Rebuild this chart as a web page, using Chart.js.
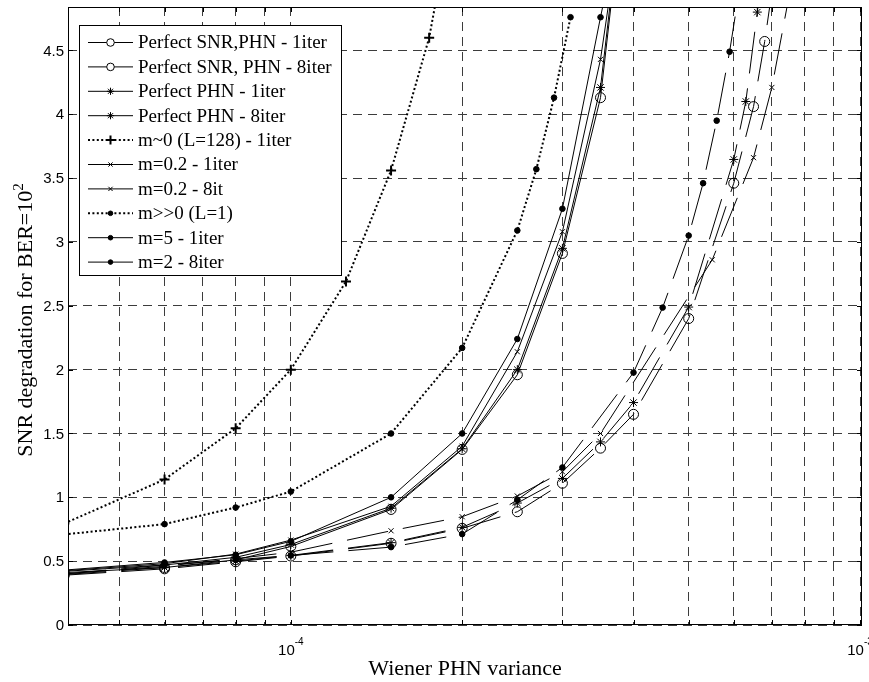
<!DOCTYPE html>
<html>
<head>
<meta charset="utf-8">
<script src="https://cdn.jsdelivr.net/npm/chart.js@4.4.1/dist/chart.umd.min.js"></script>
<style>
  html, body { margin: 0; padding: 0; background: #fff; }
  #wrap { width: 869px; height: 682px; }
</style>
</head>
<body>
<div id="wrap"><canvas id="c" width="869" height="682"></canvas></div>
<script>
// ---- Wiener phase-noise variance grid and SNR degradation (dB) at BER = 1e-2 ----

// single-iteration receivers share one variance grid
const xOneIter    = [4e-5, 6e-5, 8e-5, 1e-4, 1.5e-4, 2e-4, 2.5e-4, 3e-4, 3.5e-4, 4e-4];
const perfSnrPhn1 = [0.41, 0.45, 0.51, 0.615, 0.905, 1.375, 1.96, 2.91, 4.13, 6.4];
const perfPhn1    = [0.42, 0.47, 0.53, 0.63, 0.915, 1.38, 2.0, 2.95, 4.21, 6.45];
const m02Iter1    = [0.425, 0.48, 0.555, 0.665, 0.93, 1.40, 2.14, 3.08, 4.43, 6.2];
const m5Iter1     = [0.43, 0.49, 0.55, 0.655, 1.0, 1.50, 2.24, 3.26, 4.76, 6.0];

// eight-iteration receivers
const xPerfSnrPhn8 = [4e-5, 6e-5, 8e-5, 1e-4, 1.5e-4, 2e-4, 2.5e-4, 3e-4, 3.5e-4, 4e-4, 5e-4, 6e-4, 6.5e-4, 6.8e-4, 7.1e-4];
const perfSnrPhn8  = [0.39, 0.44, 0.495, 0.54, 0.64, 0.757, 0.887, 1.11, 1.385, 1.65, 2.40, 3.46, 4.06, 4.57, 5.15];
const xPerfPhn8    = [4e-5, 6e-5, 8e-5, 1e-4, 1.5e-4, 2e-4, 2.5e-4, 3e-4, 3.5e-4, 4e-4, 5e-4, 6e-4, 6.3e-4, 6.6e-4, 6.9e-4];
const perfPhn8     = [0.395, 0.45, 0.50, 0.545, 0.645, 0.765, 0.955, 1.148, 1.434, 1.742, 2.49, 3.646, 4.10, 4.80, 5.5];
const xM02Iter8    = [4e-5, 6e-5, 8e-5, 1e-4, 1.5e-4, 2e-4, 2.5e-4, 3e-4, 3.5e-4, 5.5e-4, 6.5e-4, 7e-4, 7.5e-4];
const m02Iter8     = [0.40, 0.46, 0.52, 0.57, 0.738, 0.848, 1.01, 1.2, 1.50, 2.86, 3.66, 4.21, 4.92];
const xM2Iter8     = [4e-5, 6e-5, 8e-5, 1e-4, 1.5e-4, 2e-4, 2.5e-4, 3e-4, 4e-4, 4.5e-4, 5e-4, 5.3e-4, 5.6e-4, 5.9e-4, 6.2e-4];
const m2Iter8      = [0.40, 0.47, 0.51, 0.545, 0.61, 0.712, 0.98, 1.234, 1.977, 2.486, 3.05, 3.46, 3.95, 4.49, 5.1];

// limiting cases of the mixing parameter m
const xM0    = [4e-5, 6e-5, 8e-5, 1e-4, 1.25e-4, 1.5e-4, 1.75e-4, 2e-4];
const m0L128 = [0.795, 1.14, 1.54, 2.0, 2.69, 3.56, 4.6, 6.0];
const xMInf  = [4e-5, 6e-5, 8e-5, 1e-4, 1.5e-4, 2e-4, 2.5e-4, 2.7e-4, 2.9e-4, 3.1e-4];
const mInfL1 = [0.709, 0.79, 0.92, 1.045, 1.50, 2.17, 3.09, 3.57, 4.13, 4.76];

// axis ticks
const yTickValues = [0, 0.5, 1, 1.5, 2, 2.5, 3, 3.5, 4, 4.5];
const yTickLabels = ['0', '0.5', '1', '1.5', '2', '2.5', '3', '3.5', '4', '4.5'];
const xGridValues = [5e-5, 6e-5, 7e-5, 8e-5, 9e-5, 1e-4, 2e-4, 3e-4, 4e-4, 5e-4, 6e-4, 7e-4, 8e-4, 9e-4, 1e-3];
const xLabelValues = [1e-4, 1e-3];
const xLabelExps   = ['-4', '-3'];

// ---- line / marker styles ----
const SOLID = [];
const DASHED = [42, 15];
const DOTTED = [2, 2.4];
const MARK = {
  circle: { pointStyle: 'circle',   r: 5,   lr: 3.8, fill: 'rgba(0,0,0,0)', bw: 1 },
  star:   { pointStyle: 'star',     r: 4.5, lr: 3.6, fill: 'rgba(0,0,0,0)', bw: 1 },
  plus:   { pointStyle: 'cross',    r: 5,   lr: 4.5, fill: 'rgba(0,0,0,0)', bw: 2 },
  xmark:  { pointStyle: 'crossRot', r: 3.6, lr: 3,   fill: 'rgba(0,0,0,0)', bw: 1 },
  dot:    { pointStyle: 'circle',   r: 2.8, lr: 2.3, fill: '#000',          bw: 1 }
};

function series(label, xs, ys, dash, mark, width) {
  const m = MARK[mark];
  return {
    label,
    data: xs.map((x, i) => ({ x, y: ys[i] })),
    showLine: true,
    tension: 0,
    borderColor: '#000',
    borderWidth: width || 1,
    borderDash: dash,
    pointStyle: m.pointStyle,
    pointRadius: m.r,
    pointBorderWidth: m.bw,
    pointBackgroundColor: m.fill,
    pointBorderColor: '#000',
    clip: 0,
    _mark: mark
  };
}

const datasets = [
  series('Perfect SNR,PHN - 1iter',  xOneIter,     perfSnrPhn1, SOLID,  'circle'),
  series('Perfect SNR, PHN - 8iter', xPerfSnrPhn8, perfSnrPhn8, DASHED, 'circle'),
  series('Perfect PHN - 1iter',      xOneIter,     perfPhn1,    SOLID,  'star'),
  series('Perfect PHN - 8iter',      xPerfPhn8,    perfPhn8,    DASHED, 'star'),
  series('m~0 (L=128) - 1iter',      xM0,          m0L128,      DOTTED, 'plus', 2),
  series('m=0.2 - 1iter',            xOneIter,     m02Iter1,    SOLID,  'xmark'),
  series('m=0.2 - 8it',              xM02Iter8,    m02Iter8,    DASHED, 'xmark'),
  series('m>>0 (L=1)',               xMInf,        mInfL1,      DOTTED, 'dot', 2),
  series('m=5 - 1iter',              xOneIter,     m5Iter1,     SOLID,  'dot'),
  series('m=2 - 8iter',              xM2Iter8,     m2Iter8,     DASHED, 'dot')
];

const SANS = "'Liberation Sans', Arial, Helvetica, sans-serif";
const SERIF = "'Liberation Serif', 'Times New Roman', Times, serif";

// small marker painter used by the legend
function paintMarker(ctx, mark, x, y) {
  const m = MARK[mark];
  const r = m.lr;
  ctx.save();
  ctx.setLineDash([]);
  ctx.lineWidth = m.bw;
  ctx.strokeStyle = '#000';
  ctx.beginPath();
  if (mark === 'circle' || mark === 'dot') {
    ctx.arc(x, y, r, 0, Math.PI * 2);
    ctx.fillStyle = mark === 'dot' ? '#000' : '#fff';
    ctx.fill();
    ctx.stroke();
  } else {
    const d = r * Math.SQRT1_2;
    if (mark === 'plus' || mark === 'star') {
      ctx.moveTo(x - r, y); ctx.lineTo(x + r, y);
      ctx.moveTo(x, y - r); ctx.lineTo(x, y + r);
    }
    if (mark === 'xmark' || mark === 'star') {
      ctx.moveTo(x - d, y - d); ctx.lineTo(x + d, y + d);
      ctx.moveTo(x - d, y + d); ctx.lineTo(x + d, y - d);
    }
    ctx.stroke();
  }
  ctx.restore();
}

const decorations = {
  id: 'decorations',
  afterDatasetsDraw(chart) {
    const { ctx, chartArea: a, scales } = chart;
    const xs = scales.x, ys = scales.y;
    ctx.save();
    ctx.setLineDash([]);
    ctx.strokeStyle = '#000';
    ctx.lineWidth = 1;

    // axes box
    ctx.strokeRect(Math.round(a.left) + 0.5, Math.round(a.top) + 0.5,
                   Math.round(a.right - a.left) - 1, Math.round(a.bottom - a.top) - 1);

    // inward tick marks on all four sides
    ctx.beginPath();
    xGridValues.forEach(v => {
      const px = Math.round(xs.getPixelForValue(v)) + 0.5;
      ctx.moveTo(px, a.top); ctx.lineTo(px, a.top + 5);
      ctx.moveTo(px, a.bottom); ctx.lineTo(px, a.bottom - 5);
    });
    yTickValues.forEach(v => {
      const py = Math.round(ys.getPixelForValue(v)) + 0.5;
      ctx.moveTo(a.left, py); ctx.lineTo(a.left + 5, py);
      ctx.moveTo(a.right, py); ctx.lineTo(a.right - 5, py);
    });
    ctx.stroke();

    // y tick labels
    ctx.fillStyle = '#000';
    ctx.font = '15px ' + SANS;
    ctx.textAlign = 'right';
    ctx.textBaseline = 'middle';
    yTickValues.forEach((v, i) => {
      ctx.fillText(yTickLabels[i], a.left - 4, ys.getPixelForValue(v) + 1);
    });

    // x tick labels, 10 with a raised exponent
    ctx.textAlign = 'left';
    ctx.textBaseline = 'alphabetic';
    xLabelValues.forEach((v, i) => {
      const px = xs.getPixelForValue(v);
      ctx.font = '15px ' + SANS;
      const wb = ctx.measureText('10').width;
      ctx.font = '10px ' + SANS;
      const we = ctx.measureText(xLabelExps[i]).width;
      const x0 = px - (wb + we) / 2;
      ctx.font = '15px ' + SANS;
      ctx.fillText('10', x0, a.bottom + 30);
      ctx.font = '10px ' + SANS;
      ctx.fillText(xLabelExps[i], x0 + wb, a.bottom + 20);
    });

    // axis titles
    ctx.font = '22px ' + SERIF;
    ctx.textAlign = 'center';
    ctx.fillText('Wiener PHN variance', (a.left + a.right) / 2, 675);

    ctx.save();
    ctx.translate(32, 320);
    ctx.rotate(-Math.PI / 2);
    const main = 'SNR degradation for BER=10';
    ctx.font = '22px ' + SERIF;
    const wm = ctx.measureText(main).width;
    ctx.font = '15px ' + SERIF;
    const ws = ctx.measureText('2').width;
    const sx = -(wm + ws) / 2;
    ctx.textAlign = 'left';
    ctx.font = '22px ' + SERIF;
    ctx.fillText(main, sx, 0);
    ctx.font = '15px ' + SERIF;
    ctx.fillText('2', sx + wm, -9);
    ctx.restore();

    // legend
    const lx = 79, ly = 25, lw = 262, lh = 250;
    ctx.fillStyle = '#fff';
    ctx.fillRect(lx, ly, lw, lh);
    ctx.strokeStyle = '#000';
    ctx.lineWidth = 1;
    ctx.strokeRect(lx + 0.5, ly + 0.5, lw, lh);
    chart.data.datasets.forEach((ds, i) => {
      const ry = 42.5 + i * 24.4;
      ctx.save();
      const dotted = ds.borderDash === DOTTED;
      ctx.setLineDash(dotted ? DOTTED : []);
      ctx.lineWidth = dotted ? 2 : 1;
      ctx.strokeStyle = '#000';
      ctx.beginPath();
      ctx.moveTo(88, ry); ctx.lineTo(133, ry);
      ctx.stroke();
      ctx.restore();
      paintMarker(ctx, ds._mark, 110.5, ry);
      ctx.fillStyle = '#000';
      ctx.font = '19px ' + SERIF;
      ctx.textAlign = 'left';
      ctx.textBaseline = 'middle';
      ctx.fillText(ds.label, 138, ry + 1);
    });
    ctx.restore();
  }
};

new Chart(document.getElementById('c'), {
  type: 'scatter',
  data: { datasets },
  options: {
    responsive: false,
    animation: false,
    events: [],
    layout: { padding: { left: 68, right: 5, top: 7, bottom: 57 } },
    plugins: { legend: { display: false }, tooltip: { enabled: false } },
    scales: {
      x: {
        type: 'logarithmic',
        min: 4.06e-5,
        max: 1.008e-3,
        afterBuildTicks: s => { s.ticks = xGridValues.map(v => ({ value: v })); },
        ticks: { display: false, autoSkip: false },
        grid: { color: '#3c3c3c', lineWidth: 1, drawTicks: false },
        border: { display: false, dash: [9, 6] },
        title: { display: false }
      },
      y: {
        type: 'linear',
        min: 0,
        max: 4.84,
        afterBuildTicks: s => { s.ticks = yTickValues.map(v => ({ value: v })); },
        ticks: { display: false },
        grid: { color: '#3c3c3c', lineWidth: 1, drawTicks: false },
        border: { display: false, dash: [9, 6] },
        title: { display: false }
      }
    }
  },
  plugins: [decorations]
});
</script>
</body>
</html>
